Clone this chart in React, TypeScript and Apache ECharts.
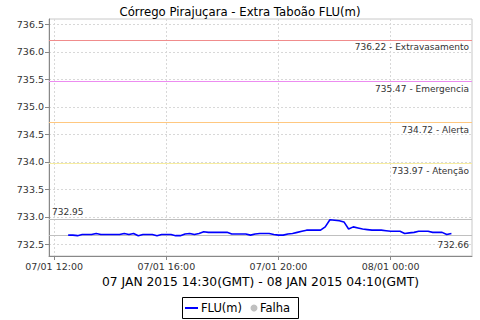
import React, { useEffect, useRef } from "react";
import * as echarts from "echarts";

const TITLE = "Córrego Pirajuçara - Extra Taboão FLU(m)";
const SUBTITLE = "07 JAN 2015 14:30(GMT) - 08 JAN 2015 04:10(GMT)";
const LEGEND_NAMES = ["FLU(m)", "Falha"];

// minutes since 07/01 00:00 (local)
const START_MIN = 750; // 07/01 12:30
const STEP_MIN = 10;
const fluValues = [
  732.67, 732.67, 732.66, 732.68, 732.68, 732.68, 732.7, 732.68, 732.68, 732.68,
  732.68, 732.68, 732.7, 732.68, 732.7, 732.66, 732.68, 732.68, 732.68, 732.66,
  732.68, 732.68, 732.68, 732.66, 732.66, 732.69, 732.7, 732.68, 732.7, 732.73,
  732.72, 732.72, 732.72, 732.72, 732.72, 732.69, 732.69, 732.69, 732.69, 732.67,
  732.69, 732.7, 732.7, 732.7, 732.68, 732.67, 732.67, 732.69, 732.7, 732.72,
  732.74, 732.76, 732.76, 732.76, 732.76, 732.82, 732.95, 732.94, 732.93, 732.91,
  732.78, 732.82, 732.8, 732.78, 732.77, 732.76, 732.76, 732.76, 732.75, 732.74,
  732.74, 732.74, 732.7, 732.71, 732.72, 732.74, 732.74, 732.74, 732.72, 732.72,
  732.72, 732.68, 732.7,
];

const thresholdValues = [736.22, 735.47, 734.72, 733.97];
const thresholdNames = ["Extravasamento", "Emergencia", "Alerta", "Atenção"];
const thresholdColors = ["#f08c8c", "#ec8cf0", "#ffc880", "#f6eca0"];

const maxValue = 732.95;
const minValue = 732.66;

const yTicks = [732.5, 733.0, 733.5, 734.0, 734.5, 735.0, 735.5, 736.0, 736.5];
const xTicks = [720, 960, 1200, 1440];
const xTickLabels = ["07/01 12:00", "07/01 16:00", "07/01 20:00", "08/01 00:00"];

const FONT = "DejaVu Sans";

export default function App() {
  const ref = useRef<HTMLDivElement>(null);
  useEffect(() => {
    if (!ref.current) return;
    const chart = echarts.init(ref.current, null, { renderer: "svg" });
    const data = fluValues.map((v, i) => [START_MIN + i * STEP_MIN, v]);
    const lbl = (text: string, position: string, dist: number[]) => ({
      show: true,
      position,
      formatter: text,
      color: "#333",
      fontFamily: FONT,
      fontSize: 9,
      distance: dist,
    });
    const markData: any[] = thresholdValues.map((v, i) => ({
      yAxis: v,
      lineStyle: { color: thresholdColors[i], type: "solid", width: 1 },
      label: lbl(v.toFixed(2) + " - " + thresholdNames[i], "insideEndBottom", [3, 3]),
    }));
    markData.push({
      yAxis: maxValue,
      lineStyle: { color: "#c0c0c0", type: "solid", width: 1 },
      label: lbl(maxValue.toFixed(2), "insideStartTop", [3, 3]),
    });
    markData.push({
      yAxis: minValue,
      lineStyle: { color: "#c0c0c0", type: "solid", width: 1 },
      label: lbl(minValue.toFixed(2), "insideEndBottom", [3, 5]),
    });
    const legendText = { fontFamily: FONT, fontSize: 11.5, fill: "#000", verticalAlign: "middle" };
    chart.setOption({
      animation: false,
      backgroundColor: "#fff",
      title: [
        {
          text: TITLE,
          left: "center",
          top: 1,
          textStyle: { fontFamily: FONT, fontSize: 11.7, fontWeight: "normal", color: "#000" },
        },
        {
          text: SUBTITLE,
          left: 97,
          top: 271,
          textStyle: { fontFamily: FONT, fontSize: 12.3, fontWeight: "normal", color: "#000" },
        },
      ],
      graphic: [
        {
          type: "group",
          left: 182,
          top: 297,
          children: [
            { type: "rect", shape: { x: 0.5, y: 0.5, width: 116, height: 21 }, style: { fill: "#fff", stroke: "#000", lineWidth: 1 } },
            { type: "line", shape: { x1: 3, y1: 11, x2: 16, y2: 11 }, style: { stroke: "#0000ff", lineWidth: 2 } },
            { type: "text", x: 19, y: 11, style: { text: LEGEND_NAMES[0], ...legendText } },
            { type: "circle", shape: { cx: 72, cy: 11, r: 3.5 }, style: { fill: "#c0c0c0" } },
            { type: "text", x: 78, y: 11, style: { text: LEGEND_NAMES[1], ...legendText } },
          ],
        },
      ],
      grid: {
        left: 49,
        right: 8,
        top: 19,
        bottom: 64,
        show: true,
        borderColor: "#c8c8c8",
        borderWidth: 1,
      },
      xAxis: {
        type: "value",
        min: 709,
        max: 1614,
        axisLine: { show: true, lineStyle: { color: "#888" } },
        axisTick: { show: true, length: 4, lineStyle: { color: "#888" }, customValues: xTicks },
        axisLabel: {
          customValues: xTicks,
          formatter: (v: number) => xTickLabels[xTicks.indexOf(v)] ?? "",
          fontFamily: FONT,
          fontSize: 9.5,
          color: "#333",
          margin: 5,
        },
        splitLine: { show: true, lineStyle: { color: "#d8d8d8", type: [2, 2] } },
      },
      yAxis: {
        type: "value",
        min: 732.29,
        max: 736.6,
        axisLine: { show: true, lineStyle: { color: "#888" } },
        axisTick: { show: true, length: 4, lineStyle: { color: "#888" }, customValues: yTicks },
        axisLabel: {
          customValues: yTicks,
          formatter: (v: number) => v.toFixed(1),
          fontFamily: FONT,
          fontSize: 9.5,
          color: "#333",
          margin: 5,
        },
        splitLine: { show: true, lineStyle: { color: "#d8d8d8", type: [2, 2] } },
      },
      series: [
        {
          name: "FLU(m)",
          type: "line",
          data,
          symbol: "none",
          lineStyle: { color: "#0000ff", width: 1.6 },
          itemStyle: { color: "#0000ff" },
          z: 5,
          markLine: {
            silent: true,
            symbol: "none",
            data: markData,
          },
        },
      ],
    });
    return () => chart.dispose();
  }, []);
  return <div ref={ref} style={{ width: 480, height: 320, position: "absolute", left: 0, top: 0 }} />;
}
